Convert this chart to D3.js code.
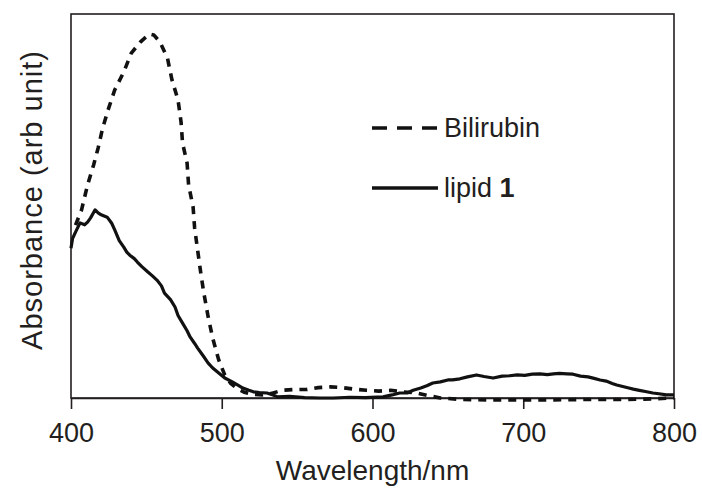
<!DOCTYPE html>
<html>
<head>
<meta charset="utf-8">
<script src="https://cdn.jsdelivr.net/npm/d3@7"></script>
<style>
  html, body { margin: 0; padding: 0; background: #fff; }
  svg { display: block; }
  text { font-family: "Liberation Sans", Arial, Helvetica, sans-serif; fill: #231f20; }
</style>
</head>
<body>
<svg id="chart" width="702" height="492"></svg>
<script>
// ---- data ----
const xTicks = [400, 500, 600, 700, 800];
const xLabel = "Wavelength/nm";
const yLabel = "Absorbance (arb unit)";
const seriesNames = ["Bilirubin", "lipid 1"];

const bilirubinWl = [403, 407, 411, 415, 418, 421, 425, 429, 435, 440, 446, 452, 455, 459, 464, 467, 471, 473, 474, 477, 478, 481, 482, 484, 486, 488, 491, 494, 498, 502, 506, 510, 515, 520, 527, 533, 540, 548, 556, 564, 572, 580, 588, 596, 604, 612, 620, 628, 636, 645, 660, 680, 700, 720, 740, 760, 780, 800];
const bilirubinAbs = [0.45, 0.49, 0.555, 0.607, 0.651, 0.703, 0.755, 0.802, 0.849, 0.898, 0.927, 0.948, 0.945, 0.927, 0.885, 0.828, 0.776, 0.719, 0.664, 0.612, 0.555, 0.497, 0.443, 0.385, 0.328, 0.276, 0.211, 0.156, 0.099, 0.06, 0.038, 0.025, 0.015, 0.01, 0.008, 0.012, 0.02, 0.022, 0.022, 0.027, 0.029, 0.027, 0.023, 0.02, 0.018, 0.02, 0.016, 0.014, 0.007, 0.0, -0.004, -0.005, -0.005, -0.005, -0.004, -0.004, -0.003, 0.0];

const lipidWl = [400, 401, 403, 406, 409, 411, 413, 416, 418, 420, 422, 424, 427, 429, 432, 435, 437, 439, 442, 444, 447, 451, 454, 457, 460, 462, 466, 469, 471, 474, 477, 479, 482, 484, 488, 491, 494, 498, 502, 507, 511, 514, 518, 521, 525, 530, 534, 537, 545, 555, 565, 574, 585, 595, 607, 613, 618, 623, 627, 632, 636, 640, 645, 650, 653, 658, 663, 669, 674, 680, 686, 691, 696, 701, 706, 711, 716, 720, 724, 729, 733, 738, 743, 747, 751, 755, 759, 762, 766, 770, 773, 777, 781, 786, 790, 795, 800];
const lipidAbs = [0.39, 0.415, 0.432, 0.456, 0.451, 0.458, 0.469, 0.49, 0.482, 0.477, 0.474, 0.471, 0.455, 0.438, 0.41, 0.393, 0.38, 0.372, 0.363, 0.354, 0.342, 0.328, 0.318, 0.307, 0.292, 0.273, 0.256, 0.237, 0.215, 0.195, 0.175, 0.159, 0.142, 0.13, 0.108, 0.091, 0.078, 0.065, 0.052, 0.042, 0.033, 0.026, 0.02, 0.016, 0.014, 0.013, 0.008, 0.003, 0.004, 0.001, 0.0, 0.0, 0.002, 0.001, 0.003, 0.008, 0.013, 0.013, 0.02, 0.026, 0.032, 0.039, 0.042, 0.047, 0.047, 0.05, 0.055, 0.06, 0.056, 0.052, 0.057, 0.058, 0.06, 0.059, 0.062, 0.063, 0.061, 0.063, 0.064, 0.063, 0.062, 0.057, 0.055, 0.051, 0.047, 0.044, 0.038, 0.034, 0.03, 0.026, 0.023, 0.02, 0.017, 0.013, 0.011, 0.008, 0.008];

// ---- layout ----
const svg = d3.select("#chart");
const mLeft = 71, mRight = 674, mTop = 14, mBottom = 398;

const x = d3.scaleLinear().domain([400, 800]).range([mLeft, mRight]);
const y = d3.scaleLinear().domain([0, 1]).range([mBottom, mTop]);

// frame
svg.append("rect")
  .attr("x", mLeft).attr("y", mTop)
  .attr("width", mRight - mLeft).attr("height", mBottom - mTop)
  .attr("fill", "none").attr("stroke", "#231f20").attr("stroke-width", 1.6);

// x axis
const xAxis = d3.axisBottom(x).tickValues(xTicks).tickFormat(d3.format("d")).tickSizeInner(11).tickSizeOuter(0).tickPadding(14);
const gx = svg.append("g").attr("transform", `translate(0,${mBottom})`).call(xAxis);
gx.select(".domain").attr("stroke", "#231f20").attr("stroke-width", 1.6);
gx.selectAll(".tick line").attr("stroke", "#231f20").attr("stroke-width", 1.6);
gx.selectAll(".tick text").attr("font-size", 27).attr("fill", "#231f20")
  .style("font-family", "'Liberation Sans', Arial, sans-serif");

// axis titles
svg.append("text").attr("x", (mLeft + mRight) / 2).attr("y", 480)
  .attr("text-anchor", "middle").attr("font-size", 28).text(xLabel);
svg.append("text").attr("transform", `translate(42,200) rotate(-90)`)
  .attr("text-anchor", "middle").attr("font-size", 29).attr("letter-spacing", 1).text(yLabel);

// lines
const line = d3.line().x(d => x(d[0])).y(d => y(d[1]));
const bil = d3.zip(bilirubinWl, bilirubinAbs);
const lip = d3.zip(lipidWl, lipidAbs);

const plot = svg.append("g");
plot.append("path").datum(bil).attr("d", line)
  .attr("fill", "none").attr("stroke", "#111").attr("stroke-width", 3.6)
  .attr("stroke-dasharray", "8,7");
plot.append("path").datum(lip).attr("d", line)
  .attr("fill", "none").attr("stroke", "#111").attr("stroke-width", 3.2)
  .attr("stroke-linejoin", "round");

// legend
const legend = svg.append("g");
const legY = [128, 188];
const legDash = ["15,10", null];
seriesNames.forEach((name, i) => {
  legend.append("line").attr("x1", 372).attr("x2", 438).attr("y1", legY[i]).attr("y2", legY[i])
    .attr("stroke", "#111").attr("stroke-width", 3.6)
    .attr("stroke-dasharray", legDash[i]);
  const t = legend.append("text").attr("x", 444).attr("y", legY[i] + 9).attr("font-size", 27);
  if (name === "lipid 1") {
    t.append("tspan").text("lipid ");
    t.append("tspan").attr("font-weight", "bold").text("1");
  } else {
    t.text(name);
  }
});
</script>
</body>
</html>
